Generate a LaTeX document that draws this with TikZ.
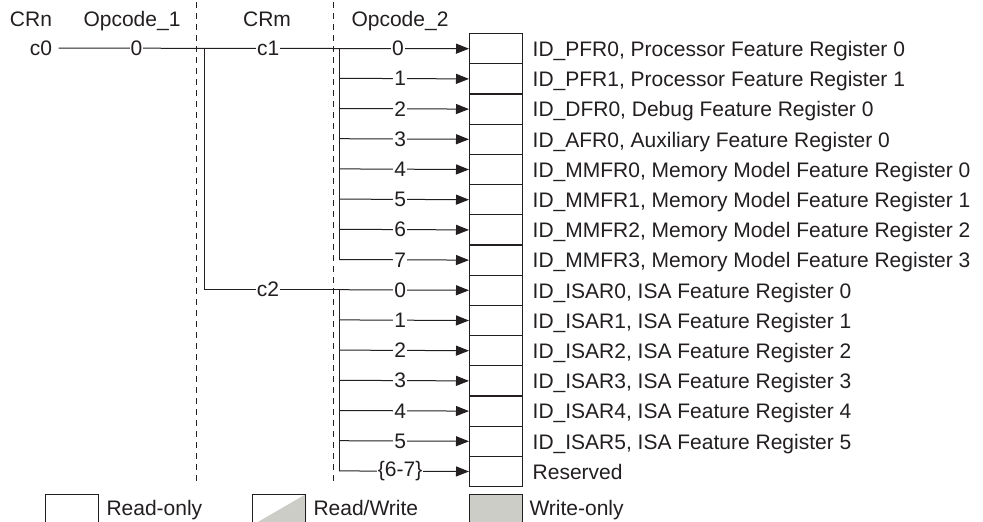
\documentclass[tikz,border=0pt]{standalone}
\usepackage{fontspec}
\setmainfont{Liberation Sans}
\usetikzlibrary{arrows.meta}
\definecolor{ink}{RGB}{35,31,32}
\definecolor{lgray}{RGB}{205,205,200}
\begin{document}
\begin{tikzpicture}[x=1pt,y=-1pt,
  font=\fontsize{21}{25}\selectfont, line width=1pt, draw=ink, text=ink,
  regbox/.style={draw=ink, fill=white, minimum width=53pt, minimum height=30.2pt, inner sep=0pt, anchor=north west, line width=1.2pt},
  legbox/.style={draw=ink, minimum width=53pt, minimum height=30.2pt, inner sep=0pt, anchor=north west, line width=1.2pt},
  lbl/.style={fill=white, inner sep=1pt},
  arr/.style={-{Triangle[length=13pt,width=10pt]}},
  divider/.style={dash pattern=on 6pt off 5pt, line width=0.9pt},
  regtext/.style={anchor=base west, inner sep=0pt},
  legtext/.style={anchor=base west, inner sep=0pt},
  head/.style={inner sep=0pt}]
\fill[white] (0,0) rectangle (983,522);
\useasboundingbox (0,0) rectangle (983,522);
\begin{scope}
\clip (0,0) rectangle (983,522);
% dividers
\coordinate (d1t) at (196,2); \coordinate (d1b) at (196,481);
\coordinate (d2t) at (333,2); \coordinate (d2b) at (333,481);
\draw[divider] (d1t) -- (d1b);
\draw[divider] (d2t) -- (d2b);
% headers
\node[head, anchor=base] (hcrn) at (31,26) {CRn};
\node[head, anchor=base] (hop1) at (132,26) {Opcode\_1};
\node[head, anchor=base] (hcrm) at (267,26) {CRm};
\node[head, anchor=base] (hop2) at (400,26) {Opcode\_2};
% register boxes
\foreach \i in {0,...,14}
  \node[regbox] (b\i) at (469,{33+30.2*\i}) {};
\foreach \i/\t in {0/{ID\_PFR0, Processor Feature Register 0},
                   1/{ID\_PFR1, Processor Feature Register 1},
                   2/{ID\_DFR0, Debug Feature Register 0},
                   3/{ID\_AFR0, Auxiliary Feature Register 0},
                   4/{ID\_MMFR0, Memory Model Feature Register 0},
                   5/{ID\_MMFR1, Memory Model Feature Register 1},
                   6/{ID\_MMFR2, Memory Model Feature Register 2},
                   7/{ID\_MMFR3, Memory Model Feature Register 3},
                   8/{ID\_ISAR0, ISA Feature Register 0},
                   9/{ID\_ISAR1, ISA Feature Register 1},
                   10/{ID\_ISAR2, ISA Feature Register 2},
                   11/{ID\_ISAR3, ISA Feature Register 3},
                   12/{ID\_ISAR4, ISA Feature Register 4},
                   13/{ID\_ISAR5, ISA Feature Register 5},
                   14/{Reserved}}
  \node[regtext] (t\i) at ([xshift=9pt,yshift=-7.8pt]b\i.east) {\t};
% c0 and main line
\node[inner xsep=6pt, inner ysep=0pt] (c0) at (41,48.1) {c0};
\draw[arr] (c0.east) -- node[lbl,pos=0.19]{0} node[lbl,pos=0.511]{c1} node[lbl,pos=0.827]{0} (b0.west);
% junctions
\coordinate (ja) at (204,48.1);
\coordinate (jb) at (204,{48.1+30.2*8});
\foreach \i in {0,...,14}
  \coordinate (s\i) at (339,{48.1+30.2*\i});
\draw (ja) -- (jb) -- node[lbl,pos=0.474]{c2} (s8);
\draw (s0) -- (s7);
\draw (s8) -- (s14);
\foreach \i/\l in {1/1,2/2,3/3,4/4,5/5,6/6,7/7,8/0,9/1,10/2,11/3,12/4,13/5,14/{\{6-7\}}}
  \draw[arr] (s\i) -- node[lbl,pos=0.47]{\l} (b\i.west);
% legend
\node[legbox, fill=white] (l1) at (45,494) {};
\node[legtext] (lt1) at (106,515) {Read-only};
\node[legbox, fill=white] (l2) at (252,494) {};
\fill[lgray] (l2.south west) -- (l2.north east) -- (l2.south east) -- cycle;
\node[legbox] at (252,494) {};
\node[legtext] (lt2) at (313,515) {Read/Write};
\node[legbox, fill=lgray] (l3) at (469,494) {};
\node[legtext] (lt3) at (529,515) {Write-only};
\end{scope}
\end{tikzpicture}
\end{document}
